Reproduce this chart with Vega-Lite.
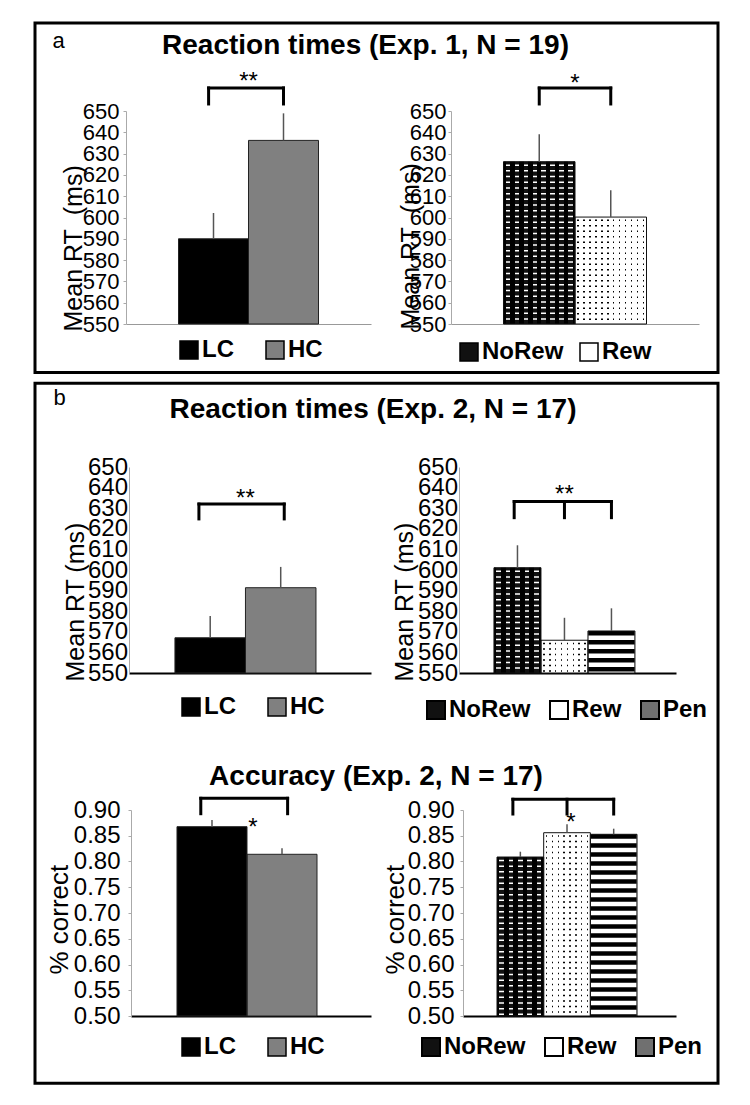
{
  "$schema": "https://vega.github.io/schema/vega-lite/v6.json",
  "background": "white",
  "padding": {"left": 33, "top": 21, "right": 0, "bottom": 0},
  "config": {
    "font": "Liberation Sans",
    "view": {"stroke": null},
    "axis": {"labelFont": "Liberation Sans", "titleFont": "Liberation Sans", "labelColor": "#000000", "titleColor": "#000000", "grid": false, "labelOverlap": false, "labelFlush": false, "titleFontWeight": "normal"},
    "legend": {"direction": "horizontal", "symbolType": "square", "symbolSize": 324, "symbolStrokeColor": "#000000", "symbolStrokeWidth": 1.5, "labelFontSize": 24, "labelFontWeight": "bold", "labelColor": "#000000", "labelFont": "Liberation Sans", "labelOffset": 1, "padding": 0},
    "title": {"font": "Liberation Sans", "color": "#000000"},
    "text": {"font": "Liberation Sans", "color": "#000000"}
  },
  "datasets": {
    "bars": [
      {"chart": "A1", "cond": "LC", "mean": 590.0, "hi": 602.1},
      {"chart": "A1", "cond": "HC", "mean": 636.2, "hi": 648.9},
      {"chart": "A2", "cond": "NoRew", "mean": 626.2, "hi": 639.1},
      {"chart": "A2", "cond": "Rew", "mean": 600.2, "hi": 612.8},
      {"chart": "B1L", "cond": "LC", "mean": 567.1, "hi": 577.7},
      {"chart": "B1L", "cond": "HC", "mean": 591.4, "hi": 601.5},
      {"chart": "B1R", "cond": "NoRew", "mean": 601.1, "hi": 612.0},
      {"chart": "B1R", "cond": "Rew", "mean": 565.9, "hi": 576.8},
      {"chart": "B1R", "cond": "Pen", "mean": 570.4, "hi": 581.4},
      {"chart": "B2L", "cond": "LC", "mean": 0.8676, "hi": 0.8806},
      {"chart": "B2L", "cond": "HC", "mean": 0.814, "hi": 0.8256},
      {"chart": "B2R", "cond": "NoRew", "mean": 0.8087, "hi": 0.819},
      {"chart": "B2R", "cond": "Rew", "mean": 0.8559, "hi": 0.8722},
      {"chart": "B2R", "cond": "Pen", "mean": 0.8528, "hi": 0.8637}
    ],
    "brk": [
      {"chart": "A1", "from": "LC", "to": "HC", "y": 660.8},
      {"chart": "A2", "from": "NoRew", "to": "Rew", "y": 660.8},
      {"chart": "B1L", "from": "LC", "to": "HC", "y": 632.0},
      {"chart": "B1R", "from": "NoRew", "to": "Pen", "y": 633.2},
      {"chart": "B2L", "from": "LC", "to": "HC", "y": 0.9227},
      {"chart": "B2R", "from": "NoRew", "to": "Pen", "y": 0.9208}
    ],
    "legs": [
      {"chart": "A1", "cond": "LC", "y": 660.8, "y2": 653.3},
      {"chart": "A1", "cond": "HC", "y": 660.8, "y2": 653.3},
      {"chart": "A2", "cond": "NoRew", "y": 660.8, "y2": 653.3},
      {"chart": "A2", "cond": "Rew", "y": 660.8, "y2": 653.3},
      {"chart": "B1L", "cond": "LC", "y": 632.0, "y2": 624.8},
      {"chart": "B1L", "cond": "HC", "y": 632.0, "y2": 624.8},
      {"chart": "B1R", "cond": "NoRew", "y": 633.2, "y2": 625.4},
      {"chart": "B1R", "cond": "Rew", "y": 633.2, "y2": 625.4},
      {"chart": "B1R", "cond": "Pen", "y": 633.2, "y2": 625.4},
      {"chart": "B2L", "cond": "LC", "y": 0.9227, "y2": 0.8928},
      {"chart": "B2L", "cond": "HC", "y": 0.9227, "y2": 0.8928},
      {"chart": "B2R", "cond": "NoRew", "y": 0.9208, "y2": 0.8922},
      {"chart": "B2R", "cond": "Rew", "y": 0.9208, "y2": 0.8922},
      {"chart": "B2R", "cond": "Pen", "y": 0.9208, "y2": 0.8922}
    ],
    "stars": [
      {"chart": "A1", "cond": "HC", "y": 660.4, "label": "**"},
      {"chart": "A2", "cond": "Rew", "y": 659.5, "label": "*"},
      {"chart": "B1L", "cond": "HC", "y": 631.2, "label": "**"},
      {"chart": "B1R", "cond": "Rew", "y": 632.9, "label": "**"},
      {"chart": "B2L", "cond": "HC", "y": 0.8518, "label": "*"},
      {"chart": "B2R", "cond": "Rew", "y": 0.8606, "label": "*"}
    ]
  },
  "hconcat": [
    {
      "vconcat": [
        {
          "width": 683, "height": 349.4,
          "view": {"stroke": "#000000", "strokeWidth": 3},
          "title": {"text": "Reaction times (Exp. 1, N = 19)", "anchor": "middle", "frame": "group", "offset": -59.4, "dx": -11, "baseline": "alphabetic", "fontSize": 28, "fontWeight": "bold"},
          "data": {"values": []},
          "mark": "point"
        },
        {
          "width": 683, "height": 700,
          "view": {"stroke": "#000000", "strokeWidth": 3},
          "title": {"text": "Reaction times (Exp. 2, N = 17)", "anchor": "middle", "frame": "group", "offset": -63, "dx": -3.5, "baseline": "alphabetic", "fontSize": 28, "fontWeight": "bold"},
          "data": {"values": []},
          "mark": "point"
        }
      ],
      "spacing": 10.3, "bounds": "flush"
    },
    {
      "vconcat": [
        {"width": 1, "height": 87.7, "data": {"values": []}, "mark": "point"},
        {
          "hconcat": [
            {
              "width": 10.5, "height": 1,
              "title": {"text": "a", "anchor": "start", "frame": "group", "offset": 41.5, "dx": 17.5, "baseline": "alphabetic", "fontSize": 22, "fontWeight": "normal"},
              "data": {"values": []},
              "mark": "point"
            },
            {
              "width": 245, "height": 213,
              "layer": [
                {
                  "data": {"name": "bars"}, "transform": [{"filter": "datum.chart == 'A1'"}],
                  "mark": {"type": "bar"},
                  "encoding": {
                    "x": {"field": "cond", "type": "nominal", "scale": {"domain": ["LC", "HC"], "paddingInner": 0, "paddingOuter": 0.75}, "axis": {"labels": false, "ticks": false, "title": null, "domainColor": "#999999", "domainWidth": 1}},
                    "y": {"field": "mean", "type": "quantitative", "scale": {"domain": [550, 650], "nice": false, "zero": false}, "axis": {"values": [550, 560, 570, 580, 590, 600, 610, 620, 630, 640, 650], "tickCount": 20, "format": "d", "labelOverlap": false, "labelFontSize": 22, "labelPadding": 4, "tickSize": 3, "tickColor": "#aaaaaa", "domainColor": "#aaaaaa", "title": "Mean RT\u00a0 (ms)", "titleFontSize": 25, "titleAngle": 270, "titleAlign": "left", "titleBaseline": "alphabetic", "titleX": -45, "titleY": 220}},
                    "y2": {"datum": 550},
                    "fill": {"field": "cond", "type": "nominal", "scale": {"domain": ["LC", "HC"], "range": ["#000000", "#808080"]}, "legend": {"orient": "none", "legendX": 51, "legendY": 227, "columnPadding": 29, "title": null}}
                  }
                },
                {
                  "data": {"name": "bars"}, "transform": [{"filter": "datum.chart == 'A1'"}],
                  "mark": {"type": "bar", "fillOpacity": 0, "stroke": "#222222", "strokeWidth": 1},
                  "encoding": {"x": {"field": "cond", "type": "nominal"}, "y": {"field": "mean", "type": "quantitative"}, "y2": {"datum": 550}}
                },
                {
                  "data": {"name": "bars"}, "transform": [{"filter": "datum.chart == 'A1'"}],
                  "mark": {"type": "rule", "color": "#555555", "strokeWidth": 1.5},
                  "encoding": {"x": {"field": "cond", "type": "nominal"}, "y": {"field": "mean", "type": "quantitative"}, "y2": {"field": "hi"}}
                },
                {
                  "data": {"name": "brk"}, "transform": [{"filter": "datum.chart == 'A1'"}],
                  "mark": {"type": "rule", "color": "#000000", "strokeWidth": 3, "strokeCap": "square"},
                  "encoding": {"x": {"field": "from", "type": "nominal", "bandPosition": 0.43}, "x2": {"field": "to", "bandPosition": 0.5}, "y": {"field": "y", "type": "quantitative"}}
                },
                {
                  "data": {"name": "legs"}, "transform": [{"filter": "datum.chart == 'A1' && datum.cond == 'LC'"}],
                  "mark": {"type": "rule", "color": "#000000", "strokeWidth": 3, "strokeCap": "square"},
                  "encoding": {"x": {"field": "cond", "type": "nominal", "bandPosition": 0.43}, "y": {"field": "y", "type": "quantitative"}, "y2": {"field": "y2"}}
                },
                {
                  "data": {"name": "legs"}, "transform": [{"filter": "datum.chart == 'A1' && datum.cond == 'HC'"}],
                  "mark": {"type": "rule", "color": "#000000", "strokeWidth": 3, "strokeCap": "square"},
                  "encoding": {"x": {"field": "cond", "type": "nominal"}, "y": {"field": "y", "type": "quantitative"}, "y2": {"field": "y2"}}
                },
                {
                  "data": {"name": "stars"}, "transform": [{"filter": "datum.chart == 'A1'"}],
                  "mark": {"type": "text", "fontSize": 24, "baseline": "alphabetic", "align": "center"},
                  "encoding": {"x": {"field": "cond", "type": "nominal", "bandPosition": 0}, "y": {"field": "y", "type": "quantitative"}, "text": {"field": "label"}}
                }
              ]
            },
            {
              "width": 248, "height": 213,
              "layer": [
                {
                  "data": {"name": "bars"}, "transform": [{"filter": "datum.chart == 'A2'"}],
                  "mark": {"type": "bar"},
                  "encoding": {
                    "x": {"field": "cond", "type": "nominal", "scale": {"domain": ["NoRew", "Rew"], "paddingInner": 0, "paddingOuter": 0.734}, "axis": {"labels": false, "ticks": false, "title": null, "domainColor": "#999999", "domainWidth": 1}},
                    "y": {"field": "mean", "type": "quantitative", "scale": {"domain": [550, 650], "nice": false, "zero": false}, "axis": {"values": [550, 560, 570, 580, 590, 600, 610, 620, 630, 640, 650], "tickCount": 20, "format": "d", "labelOverlap": false, "labelFontSize": 22, "labelPadding": 2, "tickSize": 3, "tickColor": "#aaaaaa", "domainColor": "#aaaaaa", "title": "Mean RT\u00a0 (ms)", "titleFontSize": 25, "titleAngle": 270, "titleAlign": "left", "titleBaseline": "alphabetic", "titleX": -33, "titleY": 218}},
                    "y2": {"datum": 550},
                    "fill": {"field": "cond", "type": "nominal", "scale": {"domain": ["NoRew", "Rew"], "range": ["#111111", "#ffffff"]}, "legend": {"orient": "none", "legendX": 6, "legendY": 229, "columnPadding": 13, "title": null}}
                  }
                },
                {
                  "data": {"name": "bars"}, "transform": [{"filter": "datum.chart == 'A2' && datum.cond == 'NoRew'"}],
                  "mark": {"type": "rule", "color": "#ffffff", "strokeWidth": 70.5, "strokeDash": [1.5, 4.2], "strokeDashOffset": 3},
                  "encoding": {"x": {"field": "cond", "type": "nominal"}, "y": {"field": "mean", "type": "quantitative"}, "y2": {"datum": 550}}
                },
                {
                  "data": {"name": "bars"}, "transform": [{"filter": "datum.chart == 'A2' && datum.cond == 'NoRew'"}],
                  "mark": {"type": "bar", "fill": {"gradient": "linear", "x1": 0, "y1": 0, "x2": 1, "y2": 0, "stops": [
                    {"offset": 0, "color": "#000000"},
                    {"offset": 0.031, "color": "#000000"}, {"offset": 0.031, "color": "rgba(0,0,0,0)"}, {"offset": 0.094, "color": "rgba(0,0,0,0)"}, {"offset": 0.094, "color": "#000000"},
                    {"offset": 0.156, "color": "#000000"}, {"offset": 0.156, "color": "rgba(0,0,0,0)"}, {"offset": 0.219, "color": "rgba(0,0,0,0)"}, {"offset": 0.219, "color": "#000000"},
                    {"offset": 0.281, "color": "#000000"}, {"offset": 0.281, "color": "rgba(0,0,0,0)"}, {"offset": 0.344, "color": "rgba(0,0,0,0)"}, {"offset": 0.344, "color": "#000000"},
                    {"offset": 0.406, "color": "#000000"}, {"offset": 0.406, "color": "rgba(0,0,0,0)"}, {"offset": 0.469, "color": "rgba(0,0,0,0)"}, {"offset": 0.469, "color": "#000000"},
                    {"offset": 0.531, "color": "#000000"}, {"offset": 0.531, "color": "rgba(0,0,0,0)"}, {"offset": 0.594, "color": "rgba(0,0,0,0)"}, {"offset": 0.594, "color": "#000000"},
                    {"offset": 0.656, "color": "#000000"}, {"offset": 0.656, "color": "rgba(0,0,0,0)"}, {"offset": 0.719, "color": "rgba(0,0,0,0)"}, {"offset": 0.719, "color": "#000000"},
                    {"offset": 0.781, "color": "#000000"}, {"offset": 0.781, "color": "rgba(0,0,0,0)"}, {"offset": 0.844, "color": "rgba(0,0,0,0)"}, {"offset": 0.844, "color": "#000000"},
                    {"offset": 0.906, "color": "#000000"}, {"offset": 0.906, "color": "rgba(0,0,0,0)"}, {"offset": 0.969, "color": "rgba(0,0,0,0)"}, {"offset": 0.969, "color": "#000000"},
                    {"offset": 1, "color": "#000000"}]}},
                  "encoding": {"x": {"field": "cond", "type": "nominal"}, "y": {"field": "mean", "type": "quantitative"}, "y2": {"datum": 550}}
                },
                {
                  "data": {"name": "bars"}, "transform": [{"filter": "datum.chart == 'A2' && datum.cond == 'Rew'"}],
                  "mark": {"type": "rule", "color": "#000000", "strokeWidth": 70.5, "strokeDash": [1.5, 4], "strokeDashOffset": 3},
                  "encoding": {"x": {"field": "cond", "type": "nominal"}, "y": {"field": "mean", "type": "quantitative"}, "y2": {"datum": 550}}
                },
                {
                  "data": {"name": "bars"}, "transform": [{"filter": "datum.chart == 'A2' && datum.cond == 'Rew'"}],
                  "mark": {"type": "bar", "fill": {"gradient": "linear", "x1": 0, "y1": 0, "x2": 1, "y2": 0, "stops": [
                    {"offset": 0, "color": "#ffffff"},
                    {"offset": 0.031, "color": "#ffffff"}, {"offset": 0.031, "color": "rgba(255,255,255,0)"}, {"offset": 0.052, "color": "rgba(255,255,255,0)"}, {"offset": 0.052, "color": "#ffffff"},
                    {"offset": 0.115, "color": "#ffffff"}, {"offset": 0.115, "color": "rgba(255,255,255,0)"}, {"offset": 0.136, "color": "rgba(255,255,255,0)"}, {"offset": 0.136, "color": "#ffffff"},
                    {"offset": 0.198, "color": "#ffffff"}, {"offset": 0.198, "color": "rgba(255,255,255,0)"}, {"offset": 0.219, "color": "rgba(255,255,255,0)"}, {"offset": 0.219, "color": "#ffffff"},
                    {"offset": 0.281, "color": "#ffffff"}, {"offset": 0.281, "color": "rgba(255,255,255,0)"}, {"offset": 0.302, "color": "rgba(255,255,255,0)"}, {"offset": 0.302, "color": "#ffffff"},
                    {"offset": 0.365, "color": "#ffffff"}, {"offset": 0.365, "color": "rgba(255,255,255,0)"}, {"offset": 0.386, "color": "rgba(255,255,255,0)"}, {"offset": 0.386, "color": "#ffffff"},
                    {"offset": 0.448, "color": "#ffffff"}, {"offset": 0.448, "color": "rgba(255,255,255,0)"}, {"offset": 0.469, "color": "rgba(255,255,255,0)"}, {"offset": 0.469, "color": "#ffffff"},
                    {"offset": 0.531, "color": "#ffffff"}, {"offset": 0.531, "color": "rgba(255,255,255,0)"}, {"offset": 0.552, "color": "rgba(255,255,255,0)"}, {"offset": 0.552, "color": "#ffffff"},
                    {"offset": 0.615, "color": "#ffffff"}, {"offset": 0.615, "color": "rgba(255,255,255,0)"}, {"offset": 0.636, "color": "rgba(255,255,255,0)"}, {"offset": 0.636, "color": "#ffffff"},
                    {"offset": 0.698, "color": "#ffffff"}, {"offset": 0.698, "color": "rgba(255,255,255,0)"}, {"offset": 0.719, "color": "rgba(255,255,255,0)"}, {"offset": 0.719, "color": "#ffffff"},
                    {"offset": 0.781, "color": "#ffffff"}, {"offset": 0.781, "color": "rgba(255,255,255,0)"}, {"offset": 0.802, "color": "rgba(255,255,255,0)"}, {"offset": 0.802, "color": "#ffffff"},
                    {"offset": 0.865, "color": "#ffffff"}, {"offset": 0.865, "color": "rgba(255,255,255,0)"}, {"offset": 0.886, "color": "rgba(255,255,255,0)"}, {"offset": 0.886, "color": "#ffffff"},
                    {"offset": 0.948, "color": "#ffffff"}, {"offset": 0.948, "color": "rgba(255,255,255,0)"}, {"offset": 0.969, "color": "rgba(255,255,255,0)"}, {"offset": 0.969, "color": "#ffffff"},
                    {"offset": 1, "color": "#ffffff"}]}},
                  "encoding": {"x": {"field": "cond", "type": "nominal"}, "y": {"field": "mean", "type": "quantitative"}, "y2": {"datum": 550}}
                },
                {
                  "data": {"name": "bars"}, "transform": [{"filter": "datum.chart == 'A2'"}],
                  "mark": {"type": "bar", "fillOpacity": 0, "stroke": "#111111", "strokeWidth": 1},
                  "encoding": {"x": {"field": "cond", "type": "nominal"}, "y": {"field": "mean", "type": "quantitative"}, "y2": {"datum": 550}}
                },
                {
                  "data": {"name": "bars"}, "transform": [{"filter": "datum.chart == 'A2'"}],
                  "mark": {"type": "rule", "color": "#555555", "strokeWidth": 1.5},
                  "encoding": {"x": {"field": "cond", "type": "nominal"}, "y": {"field": "mean", "type": "quantitative"}, "y2": {"field": "hi"}}
                },
                {
                  "data": {"name": "brk"}, "transform": [{"filter": "datum.chart == 'A2'"}],
                  "mark": {"type": "rule", "color": "#000000", "strokeWidth": 3, "strokeCap": "square"},
                  "encoding": {"x": {"field": "from", "type": "nominal"}, "x2": {"field": "to"}, "y": {"field": "y", "type": "quantitative"}}
                },
                {
                  "data": {"name": "legs"}, "transform": [{"filter": "datum.chart == 'A2'"}],
                  "mark": {"type": "rule", "color": "#000000", "strokeWidth": 3, "strokeCap": "square"},
                  "encoding": {"x": {"field": "cond", "type": "nominal"}, "y": {"field": "y", "type": "quantitative"}, "y2": {"field": "y2"}}
                },
                {
                  "data": {"name": "stars"}, "transform": [{"filter": "datum.chart == 'A2'"}],
                  "mark": {"type": "text", "fontSize": 24, "baseline": "alphabetic", "align": "center"},
                  "encoding": {"x": {"field": "cond", "type": "nominal", "bandPosition": 0}, "y": {"field": "y", "type": "quantitative"}, "text": {"field": "label"}}
                }
              ]
            }
          ],
          "spacing": 80, "bounds": "flush",
          "resolve": {"scale": {"fill": "independent"}, "legend": {"fill": "independent"}}
        },
        {"width": 1, "height": 356, "data": {"values": []}, "mark": "point"},
        {
          "hconcat": [
            {
              "width": 5.5, "height": 1,
              "title": {"text": "b", "anchor": "start", "frame": "group", "offset": 40.5, "dx": 18.5, "baseline": "alphabetic", "fontSize": 22, "fontWeight": "normal"},
              "data": {"values": []},
              "mark": "point"
            },
            {
              "width": 242, "height": 206,
              "layer": [
                {
                  "data": {"name": "bars"}, "transform": [{"filter": "datum.chart == 'B1L'"}],
                  "mark": {"type": "bar"},
                  "encoding": {
                    "x": {"field": "cond", "type": "nominal", "scale": {"domain": ["LC", "HC"], "paddingInner": 0, "paddingOuter": 0.716, "align": 0.455}, "axis": {"labels": false, "ticks": false, "title": null, "domainColor": "#000000", "domainWidth": 2}},
                    "y": {"field": "mean", "type": "quantitative", "scale": {"domain": [550, 650], "nice": false, "zero": false}, "axis": {"values": [550, 560, 570, 580, 590, 600, 610, 620, 630, 640, 650], "tickCount": 20, "format": "d", "labelOverlap": false, "labelFontSize": 24, "labelPadding": 1.5, "tickSize": 0, "domainColor": "#aaaaaa", "title": "Mean RT (ms)", "titleFontSize": 25, "titleAngle": 270, "titleAlign": "left", "titleBaseline": "alphabetic", "titleX": -46, "titleY": 214}},
                    "y2": {"datum": 550},
                    "fill": {"field": "cond", "type": "nominal", "scale": {"domain": ["LC", "HC"], "range": ["#000000", "#808080"]}, "legend": {"orient": "none", "legendX": 50, "legendY": 228, "columnPadding": 29, "title": null}}
                  }
                },
                {
                  "data": {"name": "bars"}, "transform": [{"filter": "datum.chart == 'B1L'"}],
                  "mark": {"type": "bar", "fillOpacity": 0, "stroke": "#222222", "strokeWidth": 1},
                  "encoding": {"x": {"field": "cond", "type": "nominal"}, "y": {"field": "mean", "type": "quantitative"}, "y2": {"datum": 550}}
                },
                {
                  "data": {"name": "bars"}, "transform": [{"filter": "datum.chart == 'B1L'"}],
                  "mark": {"type": "rule", "color": "#555555", "strokeWidth": 1.5},
                  "encoding": {"x": {"field": "cond", "type": "nominal"}, "y": {"field": "mean", "type": "quantitative"}, "y2": {"field": "hi"}}
                },
                {
                  "data": {"name": "brk"}, "transform": [{"filter": "datum.chart == 'B1L'"}],
                  "mark": {"type": "rule", "color": "#000000", "strokeWidth": 3, "strokeCap": "square"},
                  "encoding": {"x": {"field": "from", "type": "nominal", "bandPosition": 0.34}, "x2": {"field": "to", "bandPosition": 0.55}, "y": {"field": "y", "type": "quantitative"}}
                },
                {
                  "data": {"name": "legs"}, "transform": [{"filter": "datum.chart == 'B1L' && datum.cond == 'LC'"}],
                  "mark": {"type": "rule", "color": "#000000", "strokeWidth": 3, "strokeCap": "square"},
                  "encoding": {"x": {"field": "cond", "type": "nominal", "bandPosition": 0.34}, "y": {"field": "y", "type": "quantitative"}, "y2": {"field": "y2"}}
                },
                {
                  "data": {"name": "legs"}, "transform": [{"filter": "datum.chart == 'B1L' && datum.cond == 'HC'"}],
                  "mark": {"type": "rule", "color": "#000000", "strokeWidth": 3, "strokeCap": "square"},
                  "encoding": {"x": {"field": "cond", "type": "nominal", "bandPosition": 0.55}, "y": {"field": "y", "type": "quantitative"}, "y2": {"field": "y2"}}
                },
                {
                  "data": {"name": "stars"}, "transform": [{"filter": "datum.chart == 'B1L'"}],
                  "mark": {"type": "text", "fontSize": 24, "baseline": "alphabetic", "align": "center"},
                  "encoding": {"x": {"field": "cond", "type": "nominal", "bandPosition": 0}, "y": {"field": "y", "type": "quantitative"}, "text": {"field": "label"}}
                }
              ]
            },
            {
              "width": 217, "height": 206,
              "layer": [
                {
                  "data": {"name": "bars"}, "transform": [{"filter": "datum.chart == 'B1R'"}],
                  "mark": {"type": "bar"},
                  "encoding": {
                    "x": {"field": "cond", "type": "nominal", "scale": {"domain": ["NoRew", "Rew", "Pen"], "paddingInner": 0, "paddingOuter": 0.809, "align": 0.46}, "axis": {"labels": false, "ticks": false, "title": null, "domainColor": "#000000", "domainWidth": 2}},
                    "y": {"field": "mean", "type": "quantitative", "scale": {"domain": [550, 650], "nice": false, "zero": false}, "axis": {"values": [550, 560, 570, 580, 590, 600, 610, 620, 630, 640, 650], "tickCount": 20, "format": "d", "labelOverlap": false, "labelFontSize": 24, "labelPadding": 1.5, "tickSize": 0, "domainColor": "#aaaaaa", "title": "Mean RT (ms)", "titleFontSize": 25, "titleAngle": 270, "titleAlign": "left", "titleBaseline": "alphabetic", "titleX": -47, "titleY": 214}},
                    "y2": {"datum": 550},
                    "fill": {"field": "cond", "type": "nominal", "scale": {"domain": ["NoRew", "Rew", "Pen"], "range": ["#111111", "#ffffff", "#707070"]}, "legend": {"orient": "none", "legendX": -35, "legendY": 231, "columnPadding": 15, "title": null, "symbolStrokeWidth": 2}}
                  }
                },
                {
                  "data": {"name": "bars"}, "transform": [{"filter": "datum.chart == 'B1R' && datum.cond == 'NoRew'"}],
                  "mark": {"type": "rule", "color": "#ffffff", "strokeWidth": 46.5, "strokeDash": [1.5, 4.2], "strokeDashOffset": 3},
                  "encoding": {"x": {"field": "cond", "type": "nominal"}, "y": {"field": "mean", "type": "quantitative"}, "y2": {"datum": 550}}
                },
                {
                  "data": {"name": "bars"}, "transform": [{"filter": "datum.chart == 'B1R' && datum.cond == 'NoRew'"}],
                  "mark": {"type": "bar", "fill": {"gradient": "linear", "x1": 0, "y1": 0, "x2": 1, "y2": 0, "stops": [
                    {"offset": 0, "color": "#000000"},
                    {"offset": 0.052, "color": "#000000"}, {"offset": 0.052, "color": "rgba(0,0,0,0)"}, {"offset": 0.148, "color": "rgba(0,0,0,0)"}, {"offset": 0.148, "color": "#000000"},
                    {"offset": 0.252, "color": "#000000"}, {"offset": 0.252, "color": "rgba(0,0,0,0)"}, {"offset": 0.348, "color": "rgba(0,0,0,0)"}, {"offset": 0.348, "color": "#000000"},
                    {"offset": 0.452, "color": "#000000"}, {"offset": 0.452, "color": "rgba(0,0,0,0)"}, {"offset": 0.548, "color": "rgba(0,0,0,0)"}, {"offset": 0.548, "color": "#000000"},
                    {"offset": 0.652, "color": "#000000"}, {"offset": 0.652, "color": "rgba(0,0,0,0)"}, {"offset": 0.748, "color": "rgba(0,0,0,0)"}, {"offset": 0.748, "color": "#000000"},
                    {"offset": 0.852, "color": "#000000"}, {"offset": 0.852, "color": "rgba(0,0,0,0)"}, {"offset": 0.948, "color": "rgba(0,0,0,0)"}, {"offset": 0.948, "color": "#000000"},
                    {"offset": 1, "color": "#000000"}]}},
                  "encoding": {"x": {"field": "cond", "type": "nominal"}, "y": {"field": "mean", "type": "quantitative"}, "y2": {"datum": 550}}
                },
                {
                  "data": {"name": "bars"}, "transform": [{"filter": "datum.chart == 'B1R' && datum.cond == 'Rew'"}],
                  "mark": {"type": "rule", "color": "#000000", "strokeWidth": 46.5, "strokeDash": [1.5, 4], "strokeDashOffset": 3},
                  "encoding": {"x": {"field": "cond", "type": "nominal"}, "y": {"field": "mean", "type": "quantitative"}, "y2": {"datum": 550}}
                },
                {
                  "data": {"name": "bars"}, "transform": [{"filter": "datum.chart == 'B1R' && datum.cond == 'Rew'"}],
                  "mark": {"type": "bar", "fill": {"gradient": "linear", "x1": 0, "y1": 0, "x2": 1, "y2": 0, "stops": [
                    {"offset": 0, "color": "#ffffff"},
                    {"offset": 0.047, "color": "#ffffff"}, {"offset": 0.047, "color": "rgba(255,255,255,0)"}, {"offset": 0.079, "color": "rgba(255,255,255,0)"}, {"offset": 0.079, "color": "#ffffff"},
                    {"offset": 0.172, "color": "#ffffff"}, {"offset": 0.172, "color": "rgba(255,255,255,0)"}, {"offset": 0.204, "color": "rgba(255,255,255,0)"}, {"offset": 0.204, "color": "#ffffff"},
                    {"offset": 0.297, "color": "#ffffff"}, {"offset": 0.297, "color": "rgba(255,255,255,0)"}, {"offset": 0.329, "color": "rgba(255,255,255,0)"}, {"offset": 0.329, "color": "#ffffff"},
                    {"offset": 0.422, "color": "#ffffff"}, {"offset": 0.422, "color": "rgba(255,255,255,0)"}, {"offset": 0.454, "color": "rgba(255,255,255,0)"}, {"offset": 0.454, "color": "#ffffff"},
                    {"offset": 0.547, "color": "#ffffff"}, {"offset": 0.547, "color": "rgba(255,255,255,0)"}, {"offset": 0.579, "color": "rgba(255,255,255,0)"}, {"offset": 0.579, "color": "#ffffff"},
                    {"offset": 0.672, "color": "#ffffff"}, {"offset": 0.672, "color": "rgba(255,255,255,0)"}, {"offset": 0.704, "color": "rgba(255,255,255,0)"}, {"offset": 0.704, "color": "#ffffff"},
                    {"offset": 0.797, "color": "#ffffff"}, {"offset": 0.797, "color": "rgba(255,255,255,0)"}, {"offset": 0.829, "color": "rgba(255,255,255,0)"}, {"offset": 0.829, "color": "#ffffff"},
                    {"offset": 0.922, "color": "#ffffff"}, {"offset": 0.922, "color": "rgba(255,255,255,0)"}, {"offset": 0.954, "color": "rgba(255,255,255,0)"}, {"offset": 0.954, "color": "#ffffff"},
                    {"offset": 1, "color": "#ffffff"}]}},
                  "encoding": {"x": {"field": "cond", "type": "nominal"}, "y": {"field": "mean", "type": "quantitative"}, "y2": {"datum": 550}}
                },
                {
                  "data": {"name": "bars"}, "transform": [{"filter": "datum.chart == 'B1R' && datum.cond == 'Pen'"}],
                  "mark": {"type": "rule", "color": "#ffffff", "strokeWidth": 46.5},
                  "encoding": {"x": {"field": "cond", "type": "nominal"}, "y": {"field": "mean", "type": "quantitative"}, "y2": {"datum": 550}}
                },
                {
                  "data": {"name": "bars"}, "transform": [{"filter": "datum.chart == 'B1R' && datum.cond == 'Pen'"}],
                  "mark": {"type": "rule", "color": "#000000", "strokeWidth": 46.5, "strokeDash": [4.5, 4.5]},
                  "encoding": {"x": {"field": "cond", "type": "nominal"}, "y": {"field": "mean", "type": "quantitative"}, "y2": {"datum": 550}}
                },
                {
                  "data": {"name": "bars"}, "transform": [{"filter": "datum.chart == 'B1R'"}],
                  "mark": {"type": "bar", "fillOpacity": 0, "stroke": "#111111", "strokeWidth": 1},
                  "encoding": {"x": {"field": "cond", "type": "nominal"}, "y": {"field": "mean", "type": "quantitative"}, "y2": {"datum": 550}}
                },
                {
                  "data": {"name": "bars"}, "transform": [{"filter": "datum.chart == 'B1R'"}],
                  "mark": {"type": "rule", "color": "#555555", "strokeWidth": 1.5},
                  "encoding": {"x": {"field": "cond", "type": "nominal"}, "y": {"field": "mean", "type": "quantitative"}, "y2": {"field": "hi"}}
                },
                {
                  "data": {"name": "brk"}, "transform": [{"filter": "datum.chart == 'B1R'"}],
                  "mark": {"type": "rule", "color": "#000000", "strokeWidth": 3, "strokeCap": "square"},
                  "encoding": {"x": {"field": "from", "type": "nominal", "bandPosition": 0.43}, "x2": {"field": "to", "bandPosition": 0.5}, "y": {"field": "y", "type": "quantitative"}}
                },
                {
                  "data": {"name": "legs"}, "transform": [{"filter": "datum.chart == 'B1R' && datum.cond == 'NoRew'"}],
                  "mark": {"type": "rule", "color": "#000000", "strokeWidth": 3, "strokeCap": "square"},
                  "encoding": {"x": {"field": "cond", "type": "nominal", "bandPosition": 0.43}, "y": {"field": "y", "type": "quantitative"}, "y2": {"field": "y2"}}
                },
                {
                  "data": {"name": "legs"}, "transform": [{"filter": "datum.chart == 'B1R' && datum.cond != 'NoRew'"}],
                  "mark": {"type": "rule", "color": "#000000", "strokeWidth": 3, "strokeCap": "square"},
                  "encoding": {"x": {"field": "cond", "type": "nominal"}, "y": {"field": "y", "type": "quantitative"}, "y2": {"field": "y2"}}
                },
                {
                  "data": {"name": "stars"}, "transform": [{"filter": "datum.chart == 'B1R'"}],
                  "mark": {"type": "text", "fontSize": 24, "baseline": "alphabetic", "align": "center"},
                  "encoding": {"x": {"field": "cond", "type": "nominal"}, "y": {"field": "y", "type": "quantitative"}, "text": {"field": "label"}}
                }
              ]
            }
          ],
          "spacing": 88, "bounds": "flush",
          "resolve": {"scale": {"fill": "independent"}, "legend": {"fill": "independent"}}
        },
        {"width": 1, "height": 343, "data": {"values": []}, "mark": "point"},
        {
          "hconcat": [
            {
              "width": 3.5, "height": 1,
              "title": {"text": "Accuracy (Exp. 2, N = 17)", "anchor": "start", "align": "center", "frame": "group", "offset": -2.7, "dx": 341, "baseline": "alphabetic", "fontSize": 28, "fontWeight": "bold"},
              "data": {"values": []},
              "mark": "point"
            },
            {
              "width": 240, "height": 206,
              "layer": [
                {
                  "data": {"name": "bars"}, "transform": [{"filter": "datum.chart == 'B2L'"}],
                  "mark": {"type": "bar"},
                  "encoding": {
                    "x": {"field": "cond", "type": "nominal", "scale": {"domain": ["LC", "HC"], "paddingInner": 0, "paddingOuter": 0.714, "align": 0.46}, "axis": {"labels": false, "ticks": false, "title": null, "domainColor": "#000000", "domainWidth": 2}},
                    "y": {"field": "mean", "type": "quantitative", "scale": {"domain": [0.5, 0.9], "nice": false, "zero": false}, "axis": {"values": [0.5, 0.55, 0.6, 0.65, 0.7, 0.75, 0.8, 0.85, 0.9], "tickCount": 20, "format": ".2f", "labelOverlap": false, "labelFontSize": 24, "labelPadding": 8, "tickSize": 3, "tickColor": "#aaaaaa", "domainColor": "#aaaaaa", "title": "% correct", "titleFontSize": 26, "titleAngle": 270, "titleAlign": "left", "titleBaseline": "alphabetic", "titleX": -64, "titleY": 164}},
                    "y2": {"datum": 0.5},
                    "fill": {"field": "cond", "type": "nominal", "scale": {"domain": ["LC", "HC"], "range": ["#000000", "#808080"]}, "legend": {"orient": "none", "legendX": 48, "legendY": 225, "columnPadding": 29, "title": null}}
                  }
                },
                {
                  "data": {"name": "bars"}, "transform": [{"filter": "datum.chart == 'B2L'"}],
                  "mark": {"type": "bar", "fillOpacity": 0, "stroke": "#222222", "strokeWidth": 1},
                  "encoding": {"x": {"field": "cond", "type": "nominal"}, "y": {"field": "mean", "type": "quantitative"}, "y2": {"datum": 0.5}}
                },
                {
                  "data": {"name": "bars"}, "transform": [{"filter": "datum.chart == 'B2L'"}],
                  "mark": {"type": "rule", "color": "#555555", "strokeWidth": 1.5},
                  "encoding": {"x": {"field": "cond", "type": "nominal"}, "y": {"field": "mean", "type": "quantitative"}, "y2": {"field": "hi"}}
                },
                {
                  "data": {"name": "brk"}, "transform": [{"filter": "datum.chart == 'B2L'"}],
                  "mark": {"type": "rule", "color": "#000000", "strokeWidth": 3, "strokeCap": "square"},
                  "encoding": {"x": {"field": "from", "type": "nominal", "bandPosition": 0.34}, "x2": {"field": "to", "bandPosition": 0.58}, "y": {"field": "y", "type": "quantitative"}}
                },
                {
                  "data": {"name": "legs"}, "transform": [{"filter": "datum.chart == 'B2L' && datum.cond == 'LC'"}],
                  "mark": {"type": "rule", "color": "#000000", "strokeWidth": 3, "strokeCap": "square"},
                  "encoding": {"x": {"field": "cond", "type": "nominal", "bandPosition": 0.34}, "y": {"field": "y", "type": "quantitative"}, "y2": {"field": "y2"}}
                },
                {
                  "data": {"name": "legs"}, "transform": [{"filter": "datum.chart == 'B2L' && datum.cond == 'HC'"}],
                  "mark": {"type": "rule", "color": "#000000", "strokeWidth": 3, "strokeCap": "square"},
                  "encoding": {"x": {"field": "cond", "type": "nominal", "bandPosition": 0.58}, "y": {"field": "y", "type": "quantitative"}, "y2": {"field": "y2"}}
                },
                {
                  "data": {"name": "stars"}, "transform": [{"filter": "datum.chart == 'B2L'"}],
                  "mark": {"type": "text", "fontSize": 24, "baseline": "alphabetic", "align": "center", "dx": 6},
                  "encoding": {"x": {"field": "cond", "type": "nominal", "bandPosition": 0}, "y": {"field": "y", "type": "quantitative"}, "text": {"field": "label"}}
                }
              ]
            },
            {
              "width": 213, "height": 206,
              "layer": [
                {
                  "data": {"name": "bars"}, "transform": [{"filter": "datum.chart == 'B2R'"}],
                  "mark": {"type": "bar"},
                  "encoding": {
                    "x": {"field": "cond", "type": "nominal", "scale": {"domain": ["NoRew", "Rew", "Pen"], "paddingInner": 0, "paddingOuter": 0.782, "align": 0.466}, "axis": {"labels": false, "ticks": false, "title": null, "domainColor": "#000000", "domainWidth": 2}},
                    "y": {"field": "mean", "type": "quantitative", "scale": {"domain": [0.5, 0.9], "nice": false, "zero": false}, "axis": {"values": [0.5, 0.55, 0.6, 0.65, 0.7, 0.75, 0.8, 0.85, 0.9], "tickCount": 20, "format": ".2f", "labelOverlap": false, "labelFontSize": 24, "labelPadding": 6, "tickSize": 3, "tickColor": "#aaaaaa", "domainColor": "#aaaaaa", "title": "% correct", "titleFontSize": 26, "titleAngle": 270, "titleAlign": "left", "titleBaseline": "alphabetic", "titleX": -60, "titleY": 164}},
                    "y2": {"datum": 0.5},
                    "fill": {"field": "cond", "type": "nominal", "scale": {"domain": ["NoRew", "Rew", "Pen"], "range": ["#111111", "#ffffff", "#707070"]}, "legend": {"orient": "none", "legendX": -44, "legendY": 225, "columnPadding": 15, "title": null, "symbolStrokeWidth": 2}}
                  }
                },
                {
                  "data": {"name": "bars"}, "transform": [{"filter": "datum.chart == 'B2R' && datum.cond == 'NoRew'"}],
                  "mark": {"type": "rule", "color": "#ffffff", "strokeWidth": 46, "strokeDash": [1.5, 4.2], "strokeDashOffset": 3},
                  "encoding": {"x": {"field": "cond", "type": "nominal"}, "y": {"field": "mean", "type": "quantitative"}, "y2": {"datum": 0.5}}
                },
                {
                  "data": {"name": "bars"}, "transform": [{"filter": "datum.chart == 'B2R' && datum.cond == 'NoRew'"}],
                  "mark": {"type": "bar", "fill": {"gradient": "linear", "x1": 0, "y1": 0, "x2": 1, "y2": 0, "stops": [
                    {"offset": 0, "color": "#000000"},
                    {"offset": 0.052, "color": "#000000"}, {"offset": 0.052, "color": "rgba(0,0,0,0)"}, {"offset": 0.148, "color": "rgba(0,0,0,0)"}, {"offset": 0.148, "color": "#000000"},
                    {"offset": 0.252, "color": "#000000"}, {"offset": 0.252, "color": "rgba(0,0,0,0)"}, {"offset": 0.348, "color": "rgba(0,0,0,0)"}, {"offset": 0.348, "color": "#000000"},
                    {"offset": 0.452, "color": "#000000"}, {"offset": 0.452, "color": "rgba(0,0,0,0)"}, {"offset": 0.548, "color": "rgba(0,0,0,0)"}, {"offset": 0.548, "color": "#000000"},
                    {"offset": 0.652, "color": "#000000"}, {"offset": 0.652, "color": "rgba(0,0,0,0)"}, {"offset": 0.748, "color": "rgba(0,0,0,0)"}, {"offset": 0.748, "color": "#000000"},
                    {"offset": 0.852, "color": "#000000"}, {"offset": 0.852, "color": "rgba(0,0,0,0)"}, {"offset": 0.948, "color": "rgba(0,0,0,0)"}, {"offset": 0.948, "color": "#000000"},
                    {"offset": 1, "color": "#000000"}]}},
                  "encoding": {"x": {"field": "cond", "type": "nominal"}, "y": {"field": "mean", "type": "quantitative"}, "y2": {"datum": 0.5}}
                },
                {
                  "data": {"name": "bars"}, "transform": [{"filter": "datum.chart == 'B2R' && datum.cond == 'Rew'"}],
                  "mark": {"type": "rule", "color": "#000000", "strokeWidth": 46, "strokeDash": [1.5, 4], "strokeDashOffset": 3},
                  "encoding": {"x": {"field": "cond", "type": "nominal"}, "y": {"field": "mean", "type": "quantitative"}, "y2": {"datum": 0.5}}
                },
                {
                  "data": {"name": "bars"}, "transform": [{"filter": "datum.chart == 'B2R' && datum.cond == 'Rew'"}],
                  "mark": {"type": "bar", "fill": {"gradient": "linear", "x1": 0, "y1": 0, "x2": 1, "y2": 0, "stops": [
                    {"offset": 0, "color": "#ffffff"},
                    {"offset": 0.047, "color": "#ffffff"}, {"offset": 0.047, "color": "rgba(255,255,255,0)"}, {"offset": 0.079, "color": "rgba(255,255,255,0)"}, {"offset": 0.079, "color": "#ffffff"},
                    {"offset": 0.172, "color": "#ffffff"}, {"offset": 0.172, "color": "rgba(255,255,255,0)"}, {"offset": 0.204, "color": "rgba(255,255,255,0)"}, {"offset": 0.204, "color": "#ffffff"},
                    {"offset": 0.297, "color": "#ffffff"}, {"offset": 0.297, "color": "rgba(255,255,255,0)"}, {"offset": 0.329, "color": "rgba(255,255,255,0)"}, {"offset": 0.329, "color": "#ffffff"},
                    {"offset": 0.422, "color": "#ffffff"}, {"offset": 0.422, "color": "rgba(255,255,255,0)"}, {"offset": 0.454, "color": "rgba(255,255,255,0)"}, {"offset": 0.454, "color": "#ffffff"},
                    {"offset": 0.547, "color": "#ffffff"}, {"offset": 0.547, "color": "rgba(255,255,255,0)"}, {"offset": 0.579, "color": "rgba(255,255,255,0)"}, {"offset": 0.579, "color": "#ffffff"},
                    {"offset": 0.672, "color": "#ffffff"}, {"offset": 0.672, "color": "rgba(255,255,255,0)"}, {"offset": 0.704, "color": "rgba(255,255,255,0)"}, {"offset": 0.704, "color": "#ffffff"},
                    {"offset": 0.797, "color": "#ffffff"}, {"offset": 0.797, "color": "rgba(255,255,255,0)"}, {"offset": 0.829, "color": "rgba(255,255,255,0)"}, {"offset": 0.829, "color": "#ffffff"},
                    {"offset": 0.922, "color": "#ffffff"}, {"offset": 0.922, "color": "rgba(255,255,255,0)"}, {"offset": 0.954, "color": "rgba(255,255,255,0)"}, {"offset": 0.954, "color": "#ffffff"},
                    {"offset": 1, "color": "#ffffff"}]}},
                  "encoding": {"x": {"field": "cond", "type": "nominal"}, "y": {"field": "mean", "type": "quantitative"}, "y2": {"datum": 0.5}}
                },
                {
                  "data": {"name": "bars"}, "transform": [{"filter": "datum.chart == 'B2R' && datum.cond == 'Pen'"}],
                  "mark": {"type": "rule", "color": "#ffffff", "strokeWidth": 46},
                  "encoding": {"x": {"field": "cond", "type": "nominal"}, "y": {"field": "mean", "type": "quantitative"}, "y2": {"datum": 0.5}}
                },
                {
                  "data": {"name": "bars"}, "transform": [{"filter": "datum.chart == 'B2R' && datum.cond == 'Pen'"}],
                  "mark": {"type": "rule", "color": "#000000", "strokeWidth": 46, "strokeDash": [4.5, 4.5]},
                  "encoding": {"x": {"field": "cond", "type": "nominal"}, "y": {"field": "mean", "type": "quantitative"}, "y2": {"datum": 0.5}}
                },
                {
                  "data": {"name": "bars"}, "transform": [{"filter": "datum.chart == 'B2R'"}],
                  "mark": {"type": "bar", "fillOpacity": 0, "stroke": "#111111", "strokeWidth": 1},
                  "encoding": {"x": {"field": "cond", "type": "nominal"}, "y": {"field": "mean", "type": "quantitative"}, "y2": {"datum": 0.5}}
                },
                {
                  "data": {"name": "bars"}, "transform": [{"filter": "datum.chart == 'B2R'"}],
                  "mark": {"type": "rule", "color": "#555555", "strokeWidth": 1.5},
                  "encoding": {"x": {"field": "cond", "type": "nominal"}, "y": {"field": "mean", "type": "quantitative"}, "y2": {"field": "hi"}}
                },
                {
                  "data": {"name": "brk"}, "transform": [{"filter": "datum.chart == 'B2R'"}],
                  "mark": {"type": "rule", "color": "#000000", "strokeWidth": 3, "strokeCap": "square"},
                  "encoding": {"x": {"field": "from", "type": "nominal", "bandPosition": 0.34}, "x2": {"field": "to", "bandPosition": 0.5}, "y": {"field": "y", "type": "quantitative"}}
                },
                {
                  "data": {"name": "legs"}, "transform": [{"filter": "datum.chart == 'B2R' && datum.cond == 'NoRew'"}],
                  "mark": {"type": "rule", "color": "#000000", "strokeWidth": 3, "strokeCap": "square"},
                  "encoding": {"x": {"field": "cond", "type": "nominal", "bandPosition": 0.34}, "y": {"field": "y", "type": "quantitative"}, "y2": {"field": "y2"}}
                },
                {
                  "data": {"name": "legs"}, "transform": [{"filter": "datum.chart == 'B2R' && datum.cond != 'NoRew'"}],
                  "mark": {"type": "rule", "color": "#000000", "strokeWidth": 3, "strokeCap": "square"},
                  "encoding": {"x": {"field": "cond", "type": "nominal"}, "y": {"field": "y", "type": "quantitative"}, "y2": {"field": "y2"}}
                },
                {
                  "data": {"name": "stars"}, "transform": [{"filter": "datum.chart == 'B2R'"}],
                  "mark": {"type": "text", "fontSize": 24, "baseline": "alphabetic", "align": "center", "dx": 4},
                  "encoding": {"x": {"field": "cond", "type": "nominal"}, "y": {"field": "y", "type": "quantitative"}, "text": {"field": "label"}}
                }
              ]
            }
          ],
          "spacing": 92, "bounds": "flush",
          "resolve": {"scale": {"fill": "independent"}, "legend": {"fill": "independent"}}
        }
      ],
      "spacing": 0, "bounds": "flush",
      "resolve": {"scale": {"fill": "independent"}, "legend": {"fill": "independent"}}
    }
  ],
  "spacing": 0, "bounds": "flush",
  "resolve": {"scale": {"fill": "independent"}, "legend": {"fill": "independent"}}
}
